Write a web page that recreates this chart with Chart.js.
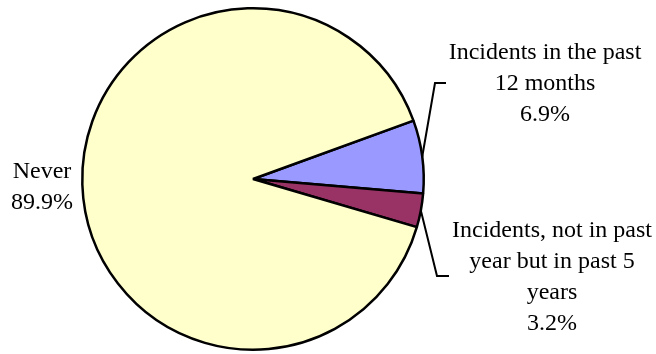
<!DOCTYPE html>
<html>
<head>
<meta charset="utf-8">
<script src="https://cdn.jsdelivr.net/npm/chart.js@4.4.0/dist/chart.umd.min.js"></script>
<style>
  html, body { margin: 0; padding: 0; background: #fff; }
  #wrap { width: 656px; height: 354px; }
</style>
</head>
<body>
<div id="wrap"><canvas id="canvas" width="656" height="354"></canvas></div>
<script>
// data
var categories = ["Incidents in the past 12 months", "Incidents, not in past year but in past 5 years", "Never"];
var values = [6.9, 3.2, 89.9];
var colors = ["#9999FF", "#993366", "#FFFFCC"];
// label lines as printed on the chart
var labelLines = [
	["Incidents in the past", "12 months", "6.9%"],
	["Incidents, not in past", "year but in past 5", "years", "3.2%"],
	["Never", "89.9%"]
];

// where each label sits (center of text block) and its leader elbow
var labelPos = [
	{x: 545, y: 84, elbow: {x: 435, y: 83}, end: {x: 446, y: 83}},
	{x: 552, y: 277, elbow: {x: 437, y: 276}, end: {x: 449, y: 276}},
	{x: 42, y: 187}
];

var labelPlugin = {
	id: "outsideLabels",
	afterDraw: function(chart) {
		var ctx = chart.ctx;
		var meta = chart.getDatasetMeta(0);
		ctx.save();
		ctx.font = "24px 'Liberation Serif', 'Times New Roman', serif";
		ctx.fillStyle = "#000";
		ctx.textAlign = "center";
		ctx.textBaseline = "middle";
		var lineH = 31;
		for (var i = 0; i < labelLines.length; i++) {
			var p = labelPos[i];
			var lines = labelLines[i];
			var top = p.y - (lines.length - 1) * lineH / 2;
			for (var j = 0; j < lines.length; j++) {
				ctx.fillText(lines[j], p.x, top + j * lineH);
			}
			if (p.elbow) {
				var arc = meta.data[i];
				var mid = (arc.startAngle + arc.endAngle) / 2;
				var r = arc.outerRadius;
				var ax = arc.x + Math.cos(mid) * r;
				var ay = arc.y + Math.sin(mid) * r;
				ctx.beginPath();
				ctx.strokeStyle = "#000";
				ctx.lineWidth = 2;
				ctx.moveTo(ax, ay);
				ctx.lineTo(p.elbow.x, p.elbow.y);
				ctx.lineTo(p.end.x, p.end.y);
				ctx.stroke();
			}
		}
		ctx.restore();
	}
};

var ctx = document.getElementById("canvas").getContext("2d");

var PieGraph = new Chart(ctx, {
	type: 'pie',
	data: {
		labels: categories,
		datasets: [{
			data: values,
			backgroundColor: colors,
			borderColor: "#000",
			borderWidth: 2.5
		}]
	},
	options: {
		responsive: false,
		animation: false,
		rotation: 70,
		layout: { padding: { left: 81, right: 231, top: 7, bottom: 3 } },
		plugins: {
			legend: { display: false },
			tooltip: { enabled: false }
		}
	},
	plugins: [labelPlugin]
});
</script>
</body>
</html>
